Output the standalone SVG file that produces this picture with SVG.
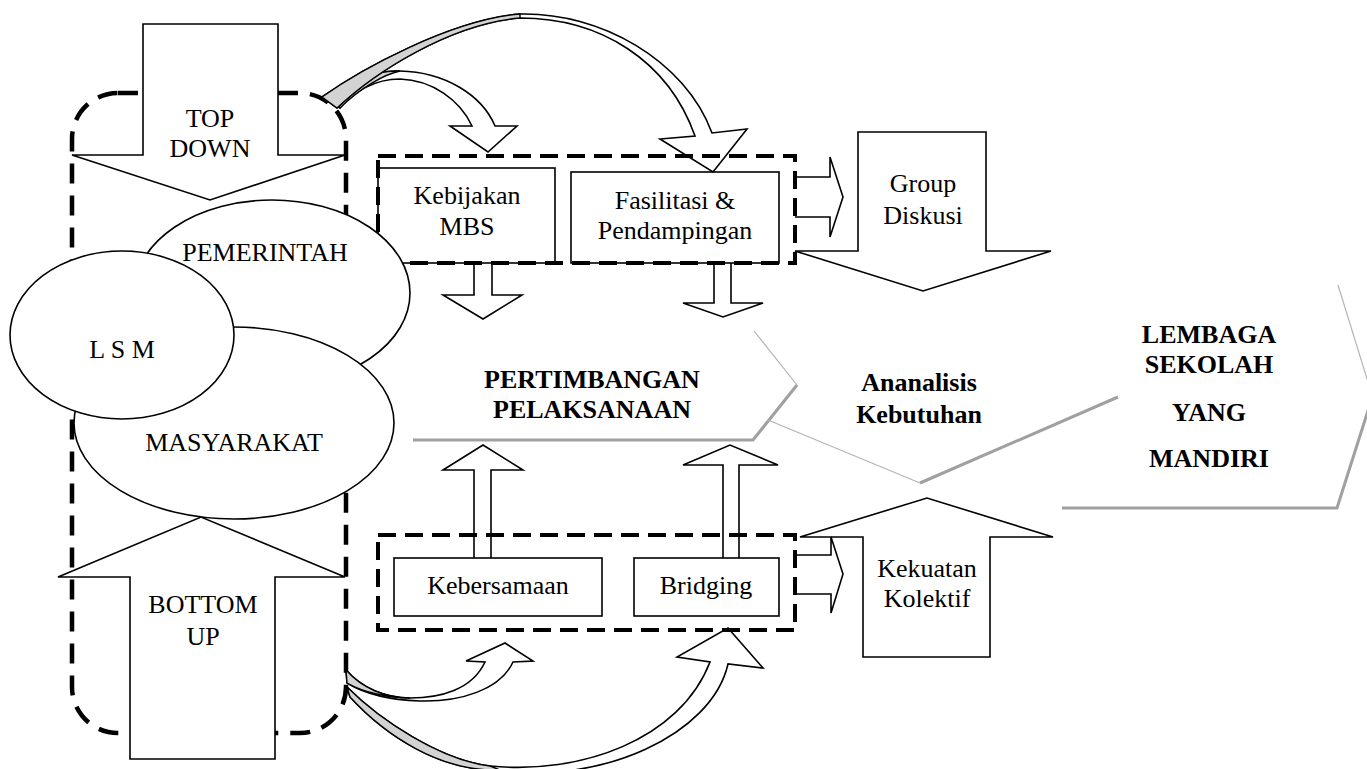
<svg xmlns="http://www.w3.org/2000/svg" width="1367" height="769" viewBox="0 0 1367 769">
<style>
text{font-family:"Liberation Serif","Times New Roman",serif;font-size:26px;fill:#000;text-anchor:middle}
.b{font-weight:bold}
.shape{fill:#fff;stroke:#000;stroke-width:1.6}
.box{fill:#fff;stroke:#000;stroke-width:1.6}
.dash{fill:none;stroke:#000;stroke-width:4.5;stroke-dasharray:20 12}
.dash2{fill:none;stroke:#000;stroke-width:4;stroke-dasharray:18 9}
.g1{fill:none;stroke:#b4b4b4;stroke-width:1.2}
.g2{fill:none;stroke:#a0a0a0;stroke-width:3}
.conn{fill:none;stroke:#000;stroke-width:1.6;stroke-linejoin:miter}
.back{fill:#d3d3d3;stroke:#000;stroke-width:1.4}
</style>

<g id="pertimbangan">
<path class="g1" d="M754,331 L797,385"/>
<path class="g2" d="M797,385 L753,440 L413,440"/>
<text class="b" x="592" y="388">PERTIMBANGAN</text>
<text class="b" x="592" y="418">PELAKSANAAN</text>
</g>

<g id="analisis">
<path class="g1" d="M768,420 L920,483"/>
<path class="g2" d="M920,483 L1118,397"/>
<text class="b" x="919" y="391">Ananalisis</text>
<text class="b" x="919" y="423">Kebutuhan</text>
</g>

<g id="lembaga">
<path class="g1" d="M1338,285 L1372,395"/>
<path class="g2" d="M1372,398 L1337,508 L1062,508"/>
<text class="b" x="1209" y="343">LEMBAGA</text>
<text class="b" x="1209" y="373">SEKOLAH</text>
<text class="b" x="1209" y="421">YANG</text>
<text class="b" x="1209" y="467">MANDIRI</text>
</g>

<g id="left-group">
<rect class="dash" x="72" y="93" width="274" height="640" rx="46" ry="46"/>
</g>

<g id="top-down">
<polygon class="shape" points="143,24 278,24 278,155 345,155 210,200 72,155 143,155"/>
<text x="210" y="127">TOP</text>
<text x="210" y="157">DOWN</text>
</g>

<g id="bottom-up">
<polygon class="shape" points="130,759 275,759 275,577 345,577 201,517 58,577 130,577"/>
<text x="203" y="613">BOTTOM</text>
<text x="203" y="645">UP</text>
</g>

<g id="kebijakan">
<rect class="box" x="378" y="168" width="177" height="95"/>
<text x="467" y="204">Kebijakan</text>
<text x="467" y="235">MBS</text>
</g>

<g id="fasilitasi">
<rect class="box" x="571" y="172" width="208" height="91"/>
<text x="675" y="209">Fasilitasi &amp;</text>
<text x="675" y="239">Pendampingan</text>
</g>

<g id="top-cluster">
<rect class="dash2" x="378" y="156" width="417" height="107"/>
</g>

<g id="kebersamaan">
<rect class="box" x="394" y="558" width="208" height="58"/>
<text x="498" y="594">Kebersamaan</text>
</g>

<g id="bridging">
<rect class="box" x="634" y="558" width="145" height="58"/>
<text x="706" y="594">Bridging</text>
</g>

<g id="bottom-cluster">
<rect class="dash2" x="378" y="535" width="417" height="95"/>
</g>

<g id="group-diskusi">
<polygon class="shape" points="858,132 986,132 986,251 1051,251 923,291 795,251 858,251"/>
<text x="923" y="192">Group</text>
<text x="923" y="224">Diskusi</text>
</g>

<g id="kekuatan">
<polygon class="shape" points="863,657 990,657 990,537 1053,537 927,498 800,537 863,537"/>
<text x="927" y="577">Kekuatan</text>
<text x="927" y="607">Kolektif</text>
</g>

<g id="pemerintah">
<ellipse class="shape" cx="272" cy="293" rx="138" ry="93"/>
<text x="265" y="261">PEMERINTAH</text>
</g>

<g id="masyarakat">
<ellipse class="shape" cx="234" cy="423" rx="160" ry="96"/>
<text x="234" y="451">MASYARAKAT</text>
</g>

<g id="lsm">
<ellipse class="shape" cx="122" cy="335" rx="112" ry="84"/>
<text x="122" y="358">L S M</text>
</g>

<g id="connectors">
<!-- down arrows from top boxes -->
<path class="conn" d="M474,263 L474,295 L443,295 L483,319 L522,295 L492,295 L492,263"/>
<path class="conn" d="M714,263 L714,303 L683,303 L723,317 L763,303 L731,303 L731,263"/>
<!-- up arrows from bottom boxes -->
<path class="conn" d="M474,558 L474,470 L443,470 L483,445 L523,470 L491,470 L491,558"/>
<path class="conn" d="M723,558 L723,465 L683,465 L730,445 L778,465 L739,465 L739,558"/>
<!-- right arrows -->
<path class="conn" d="M795,177 L830,177 L830,157 L843,197 L830,237 L830,217 L795,217"/>
<path class="conn" d="M795,555 L831,555 L831,537 L843,574 L831,613 L831,594 L795,594"/>
<!-- top curved arrows -->
<path class="conn" d="M333,101 C350,80 375,70 400,71 C445,72 482,95 495,126 L517,126 L488,152 L450,126 L472,126 C460,100 432,80 400,79 C375,79 352,92 340,108 Z"/>
<path class="back" d="M333,101 C350,80 375,70 400,71 C385,74 360,88 340,108 Z"/>
<path class="conn" d="M322,97 C360,70 450,20 520,14 C600,12 685,60 712,133 L747,129 L713,172 L660,139 L695,136 C668,60 600,18 520,18 C450,24 375,72 337,108 Z"/>
<path class="back" d="M322,97 C360,70 450,20 520,14 L520,18 C450,24 375,72 337,108 Z"/>
<!-- bottom curved arrows -->
<path class="conn" d="M346,670 C362,688 385,698 410,698 C440,698 472,690 485,662 L466,661 L505,643 L533,661 L513,662 C500,690 460,702 420,701 C390,700 365,694 347,683 Z"/>
<path class="back" d="M346,670 C362,688 385,698 410,698 C390,698 365,693 347,683 Z"/>
<path class="conn" d="M347,687 C380,720 440,760 490,766 C580,775 680,740 710,662 L677,657 L728,628 L763,668 L728,664 C712,735 600,785 500,770 C440,772 385,735 350,697 Z"/>
<path class="back" d="M347,687 C380,720 440,760 490,766 L500,770 C440,772 385,735 350,697 Z"/>
</g>
</svg>
